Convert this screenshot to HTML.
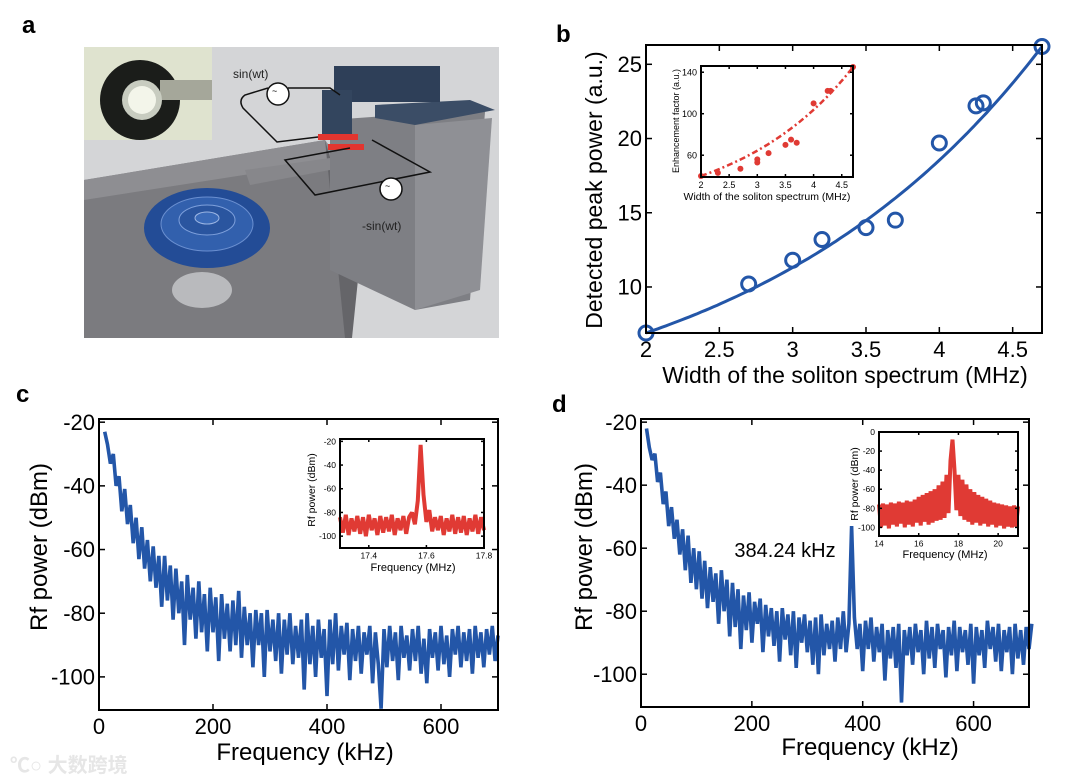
<!DOCTYPE html>
<html><head><meta charset="utf-8"><style>
html,body{margin:0;padding:0;background:#fff;}
svg{display:block;font-family:"Liberation Sans","Noto Sans CJK SC",sans-serif;}
</style></head><body>
<svg id="fig" width="1080" height="782" viewBox="0 0 1080 782">
<text x="22" y="33" font-size="24" font-weight="bold">a</text>
<text x="556" y="42" font-size="24" font-weight="bold">b</text>
<text x="16" y="402" font-size="24" font-weight="bold">c</text>
<text x="552" y="412" font-size="24" font-weight="bold">d</text>

<g>
  <rect x="84" y="47" width="415" height="291" fill="#d4d5d7"/>
  <polygon points="84,180 325,140 345,280 350,338 84,338" fill="#7b7b7f"/>
  <polygon points="84,180 325,140 340,160 84,200" fill="#8e8e92"/>
  <polygon points="325,140 360,260 352,338 345,338" fill="#656569"/>
  <polygon points="245,170 330,158 330,170 250,185" fill="#87878b"/>
  <polygon points="330,120 470,110 485,112 470,300 415,310 330,270" fill="#7e7f84"/>
  <polygon points="415,125 492,118 480,290 415,310" fill="#8f9095"/>
  <polygon points="375,105 470,100 495,110 415,125 375,118" fill="#3b4d66"/>
  <rect x="334" y="66" width="106" height="36" fill="#2e3f58"/>
  <rect x="322" y="90" width="30" height="50" fill="#33455e"/>
  <rect x="318" y="134" width="40" height="6" fill="#e2352f"/>
  <rect x="328" y="144" width="36" height="6" fill="#e2352f"/>
  <path d="M268,88 L245,95 Q238,100 243,108 L277,142 L318,137" fill="none" stroke="#111" stroke-width="1.5"/>
  <path d="M288,88 L330,88 L340,95" fill="none" stroke="#111" stroke-width="1.5"/>
  <path d="M350,148 L285,160 L315,195 L430,172 L372,140" fill="none" stroke="#111" stroke-width="1.5"/>
  <circle cx="278" cy="94" r="11" fill="#fff" stroke="#111" stroke-width="1.5"/>
  <circle cx="391" cy="189" r="11" fill="#fff" stroke="#111" stroke-width="1.5"/>
  <text x="272" y="94" font-size="9">~</text>
  <text x="385" y="189" font-size="9">~</text>
  <text x="233" y="78" font-size="12" fill="#222">sin(wt)</text>
  <text x="362" y="230" font-size="12" fill="#222">-sin(wt)</text>
  <ellipse cx="202" cy="290" rx="30" ry="18" fill="#b9babd"/>
  <ellipse cx="207" cy="228" rx="63" ry="40" fill="#234c96"/>
  <ellipse cx="207" cy="224" rx="46" ry="27" fill="#3260ad" stroke="#6a8fd0" stroke-width="1"/>
  <ellipse cx="207" cy="220" rx="28" ry="15" fill="#2a559f" stroke="#7ea0dc" stroke-width="1"/>
  <ellipse cx="207" cy="218" rx="12" ry="6" fill="#3a6ab8" stroke="#9bb5e3" stroke-width="1"/>
  <rect x="84" y="47" width="128" height="93" fill="#dfe3cf"/>
  <ellipse cx="140" cy="100" rx="40" ry="40" fill="#1b1d1a"/>
  <rect x="160" y="80" width="52" height="20" fill="#a5a79a"/>
  <circle cx="142" cy="100" r="20" fill="#c8ccc0"/>
  <circle cx="142" cy="100" r="14" fill="#f3f5ea"/>
</g>

<g id="panelB"></g>
<g id="panelC"></g>
<g id="panelD"></g>

<text x="10" y="772" font-size="20" fill="#e6e6e6" font-weight="bold">℃○ 大数跨境</text>
</svg>
<script>
const bX = [2, 2.7, 3, 3.2, 3.5, 3.7, 4, 4.25, 4.3, 4.7];
const bY = [6.9, 10.2, 11.8, 13.2, 14.0, 14.5, 19.7, 22.2, 22.4, 26.2];
const bXTicks = [2, 2.5, 3, 3.5, 4, 4.5];
const bYTicks = [10, 15, 20, 25];
const bInsetX = [2, 2.3, 2.7, 3, 3, 3.2, 3.5, 3.6, 3.7, 4, 4.25, 4.3, 4.7];
const bInsetY = [40, 43, 47, 53, 56, 62, 70, 75, 72, 110, 122, 122, 145];
const bInsetXTicks = [2, 2.5, 3, 3.5, 4, 4.5];
const bInsetYTicks = [60, 100, 140];
const cStart = 10, cStep = 5;
const cY = [-23,-27,-33,-30,-40,-37,-48,-41,-52,-46,-58,-50,-63,-53,-66,-57,-70,-59,-72,-62,-78,-62,-76,-65,-82,-66,-80,-70,-90,-68,-82,-72,-88,-70,-86,-74,-92,-72,-86,-75,-95,-74,-88,-77,-92,-76,-90,-73,-94,-78,-90,-80,-97,-79,-90,-80,-100,-79,-92,-82,-95,-80,-99,-82,-93,-80,-96,-84,-94,-82,-104,-80,-96,-84,-100,-82,-94,-85,-106,-82,-96,-80,-98,-84,-93,-83,-101,-85,-95,-84,-99,-86,-93,-84,-102,-86,-96,-110,-85,-97,-84,-95,-86,-101,-84,-94,-87,-98,-85,-95,-84,-99,-88,-102,-85,-94,-86,-98,-84,-96,-87,-100,-85,-93,-84,-97,-86,-95,-85,-99,-84,-94,-86,-97,-85,-93,-84,-95,-87];
const cTicksX = [0, 200, 400, 600];
const cTicksY = [-20, -40, -60, -80, -100];
const cInStart = 17.3, cInStep = 0.01;
const cInY = [-84,-97,-82,-99,-85,-96,-83,-98,-84,-100,-82,-95,-85,-99,-83,-97,-84,-96,-82,-99,-85,-95,-83,-98,-84,-80,-90,-70,-23,-65,-88,-78,-96,-84,-95,-83,-99,-85,-96,-82,-98,-84,-97,-83,-99,-85,-96,-82,-98,-84,-95];
const cInTicksX = [17.4, 17.6, 17.8];
const cInTicksY = [-20, -40, -60, -80, -100];
const dStart = 10, dStep = 5;
const dY = [-22,-28,-32,-30,-39,-36,-46,-42,-53,-47,-57,-51,-62,-54,-67,-56,-71,-60,-73,-61,-76,-64,-79,-66,-77,-68,-84,-67,-80,-70,-88,-71,-85,-73,-92,-75,-86,-74,-90,-77,-84,-76,-93,-78,-88,-79,-91,-80,-96,-79,-89,-81,-94,-80,-98,-82,-90,-81,-93,-83,-97,-82,-100,-81,-94,-84,-92,-83,-96,-82,-92,-80,-93,-84,-53,-82,-92,-84,-99,-83,-92,-82,-96,-85,-93,-84,-102,-86,-95,-85,-98,-84,-109,-86,-94,-85,-97,-84,-93,-86,-100,-83,-95,-85,-98,-84,-92,-86,-101,-85,-94,-83,-99,-85,-93,-86,-97,-84,-103,-85,-94,-86,-98,-83,-92,-85,-96,-84,-99,-86,-93,-85,-100,-84,-95,-86,-97,-85,-92,-84];
const dTicksX = [0, 200, 400, 600];
const dTicksY = [-20, -40, -60, -80, -100];
const dInStart = 14, dInStep = 0.1;
const dInY = [-76,-100,-75,-98,-76,-101,-74,-97,-75,-99,-73,-96,-74,-100,-72,-97,-73,-99,-71,-95,-68,-98,-66,-94,-64,-97,-62,-95,-60,-93,-56,-92,-52,-90,-45,-85,-30,-8,-40,-82,-45,-88,-50,-92,-55,-94,-60,-97,-63,-95,-66,-98,-68,-96,-70,-99,-72,-97,-74,-100,-75,-98,-76,-101,-77,-99,-78,-100,-77,-99,-78];
const dInTicksX = [14, 16, 18, 20];
const dInTicksY = [0, -20, -40, -60, -80, -100];

const NS = "http://www.w3.org/2000/svg";
function mk(parent, tag, attrs) { const e = document.createElementNS(NS, tag); for (const k in attrs) e.setAttribute(k, attrs[k]); parent.appendChild(e); return e; }
function lin(d0, d1, r0, r1) { return v => r0 + (v - d0) * (r1 - r0) / (d1 - d0); }

function axesBox(g, x0, y0, x1, y1, sx, sy, xt, yt, fs, tl, xfmt, yfmt, prefix) {
  const box = mk(g, 'rect', {x: x0, y: y0, width: x1 - x0, height: y1 - y0, fill: 'none', stroke: '#000', 'stroke-width': 2});
  
  
  xt.forEach(v => {
    const x = sx(v);
    mk(g, 'line', {x1: x, y1: y1, x2: x, y2: y1 - tl, stroke: '#000', 'stroke-width': 1.5});
    mk(g, 'line', {x1: x, y1: y0, x2: x, y2: y0 + tl, stroke: '#000', 'stroke-width': 1.5});
    const t = mk(g, 'text', {x: x, y: y1 + fs + 2, 'font-size': fs, 'text-anchor': 'middle'});
    t.textContent = xfmt(v);
    
    
  });
  yt.forEach(v => {
    const y = sy(v);
    mk(g, 'line', {x1: x0, y1: y, x2: x0 + tl, y2: y, stroke: '#000', 'stroke-width': 1.5});
    mk(g, 'line', {x1: x1, y1: y, x2: x1 - tl, y2: y, stroke: '#000', 'stroke-width': 1.5});
    const t = mk(g, 'text', {x: x0 - 4, y: y + fs * 0.35, 'font-size': fs, 'text-anchor': 'end'});
    t.textContent = yfmt(v);
    
    
  });
}
function label(g, txt, x, y, fs, rot, name) {
  const t = mk(g, 'text', {x: x, y: y, 'font-size': fs, 'text-anchor': 'middle'});
  if (rot) t.setAttribute('transform', `rotate(-90 ${x} ${y})`);
  t.textContent = txt;
  
  
  return t;
}
function series(g, start, step, ys, sx, sy, color, w, name) {
  const pts = ys.map((v, i) => sx(start + i * step).toFixed(1) + ',' + sy(v).toFixed(1)).join(' ');
  const p = mk(g, 'polyline', {points: pts, fill: 'none', stroke: color, 'stroke-width': w, 'stroke-linejoin': 'bevel'});
  
  
}
const minus = v => (v < 0 ? '-' : '') + Math.abs(v);

(function () {
  const g = document.getElementById('panelB');
  const sx = lin(2, 4.7, 646, 1042), sy = lin(6.9, 26.3, 333, 45);
  let d = '';
  for (let i = 0; i <= 100; i++) { const x = 2 + 2.7 * i / 100; const y = 2.57 * Math.exp(0.494 * x); d += (i ? 'L' : 'M') + sx(x).toFixed(1) + ',' + sy(y).toFixed(1); }
  const fit = mk(g, 'path', {d: d, fill: 'none', stroke: '#2356a8', 'stroke-width': 3});
  
  
  bX.forEach((x, i) => {
    const c = mk(g, 'circle', {cx: sx(x), cy: sy(bY[i]), r: 7, fill: 'none', stroke: '#2356a8', 'stroke-width': 3});
    
    
  });
  axesBox(g, 646, 45, 1042, 333, sx, sy, bXTicks, bYTicks, 22, 6, v => String(v), v => String(v), 'b');
  label(g, 'Width of the soliton spectrum (MHz)', 845, 383, 23, false, 'b-x-axis-title');
  label(g, 'Detected peak power (a.u.)', 602, 190, 23, true, 'b-y-axis-title');
  const ix = lin(2, 4.7, 701, 853), iy = lin(39, 146, 177, 66);
  mk(g, 'rect', {x: 701, y: 66, width: 152, height: 111, fill: '#fff'});
  let d2 = '';
  for (let i = 0; i <= 60; i++) { const x = 2 + 2.7 * i / 60; const y = 15.4 * Math.exp(0.477 * x); d2 += (i ? 'L' : 'M') + ix(x).toFixed(1) + ',' + iy(y).toFixed(1); }
  const f2 = mk(g, 'path', {d: d2, fill: 'none', stroke: '#e03a34', 'stroke-width': 2.5, 'stroke-dasharray': '6 3 2 3'});
  
  
  bInsetX.forEach((x, i) => {
    const c = mk(g, 'circle', {cx: ix(x), cy: iy(bInsetY[i]), r: 3, fill: '#e03a34'});
    
    
  });
  axesBox(g, 701, 66, 853, 177, ix, iy, bInsetXTicks, bInsetYTicks, 9, 3, v => String(v), v => String(v), 'b-inset');
  label(g, 'Width of the soliton spectrum (MHz)', 767, 200, 10.5, false, 'b-inset-x-axis-title');
  label(g, 'Enhancement factor (a.u.)', 679, 121, 9, true, 'b-inset-y-axis-title');
})();

(function () {
  const g = document.getElementById('panelC');
  const sx = lin(0, 700, 99, 498), sy = lin(-19, -110.4, 419, 710);
  series(g, cStart, cStep, cY, sx, sy, '#2356a8', 3.6, 'c-spectrum-line');
  axesBox(g, 99, 419, 498, 710, sx, sy, cTicksX, cTicksY, 22, 6, v => String(v), minus, 'c');
  label(g, 'Frequency (kHz)', 305, 760, 24, false, 'c-x-axis-title');
  label(g, 'Rf power (dBm)', 47, 547, 24, true, 'c-y-axis-title');
  const ix = lin(17.3, 17.8, 340, 484), iy = lin(-18, -110, 439, 548);
  mk(g, 'rect', {x: 340, y: 439, width: 144, height: 109, fill: '#fff'});
  series(g, cInStart, cInStep, cInY, ix, iy, '#e03a34', 4, 'c-inset-spectrum-line');
  axesBox(g, 340, 439, 484, 548, ix, iy, cInTicksX, cInTicksY, 8.5, 3, v => v.toFixed(1), minus, 'c-inset');
  label(g, 'Frequency (MHz)', 413, 571, 11, false, 'c-inset-x-axis-title');
  label(g, 'Rf power (dBm)', 315, 490, 10.5, true, 'c-inset-y-axis-title');
})();

(function () {
  const g = document.getElementById('panelD');
  const sx = lin(0, 700, 641, 1029), sy = lin(-19, -110.4, 419, 707);
  series(g, dStart, dStep, dY, sx, sy, '#2356a8', 3.6, 'd-spectrum-line');
  axesBox(g, 641, 419, 1029, 707, sx, sy, dTicksX, dTicksY, 22, 6, v => String(v), minus, 'd');
  label(g, 'Frequency (kHz)', 870, 755, 24, false, 'd-x-axis-title');
  label(g, 'Rf power (dBm)', 592, 547, 24, true, 'd-y-axis-title');
  const pk = mk(g, 'text', {x: 785, y: 557, 'font-size': 20, 'text-anchor': 'middle'});
  pk.textContent = '384.24 kHz';
  
  
  const ix = lin(14, 21, 879, 1018), iy = lin(0, -109, 432, 536);
  mk(g, 'rect', {x: 879, y: 432, width: 139, height: 104, fill: '#fff'});
  series(g, dInStart, dInStep, dInY, ix, iy, '#e03a34', 4, 'd-inset-spectrum-line');
  axesBox(g, 879, 432, 1018, 536, ix, iy, dInTicksX, dInTicksY, 8.5, 3, v => String(v), minus, 'd-inset');
  label(g, 'Frequency (MHz)', 945, 558, 11, false, 'd-inset-x-axis-title');
  label(g, 'Rf power (dBm)', 858, 484, 10.5, true, 'd-inset-y-axis-title');
})();
</script>
</body></html>
